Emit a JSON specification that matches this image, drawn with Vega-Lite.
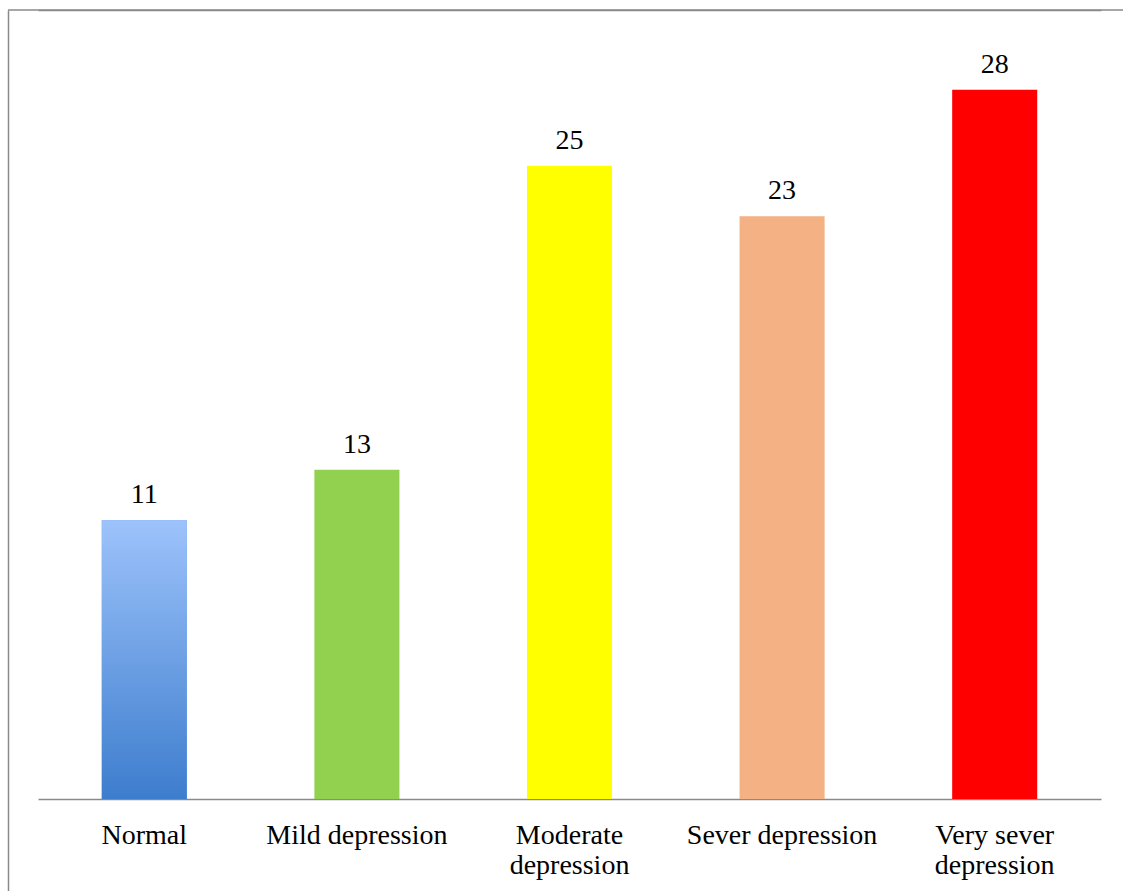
{
  "$schema": "https://vega.github.io/schema/vega-lite/v6.json",
  "autosize": {"type": "none"},
  "padding": {"left": 8, "top": 10, "right": 0, "bottom": 0},
  "width": 1115,
  "height": 881,
  "background": "white",
  "config": {
    "view": {"stroke": "#8a8a8a", "strokeWidth": 1.5, "strokeDash": [1115, 99999]},
    "font": "Liberation Serif"
  },
  "data": {
    "values": [
      {"category": "Normal", "value": 11},
      {"category": "Mild depression", "value": 13},
      {"category": "Moderate depression", "value": 25},
      {"category": "Sever depression", "value": 23},
      {"category": "Very sever depression", "value": 28}
    ]
  },
  "encoding": {
    "x": {
      "field": "category",
      "type": "nominal",
      "sort": null,
      "title": null,
      "scale": {"type": "band", "range": [30, 1093], "paddingInner": 0.6, "paddingOuter": 0.3},
      "axis": {
        "orient": "bottom",
        "offset": -92,
        "domainColor": "#8a8a8a",
        "domainWidth": 1.5,
        "ticks": false,
        "labelAngle": 0,
        "labelFont": "Liberation Serif",
        "labelFontSize": 28,
        "labelColor": "#000000",
        "labelBaseline": "alphabetic",
        "labelPadding": 44,
        "labelLineHeight": 30,
        "labelLimit": 0,
        "labelExpr": "datum.label == 'Moderate depression' ? ['Moderate', 'depression'] : datum.label == 'Very sever depression' ? ['Very sever', 'depression'] : datum.label"
      }
    },
    "y": {
      "field": "value",
      "type": "quantitative",
      "title": null,
      "scale": {"domain": [-3.63158, 31.14474], "nice": false, "zero": false},
      "axis": {
        "orient": "left",
        "values": [31.14474],
        "labels": false,
        "ticks": false,
        "domain": true,
        "domainColor": "#8a8a8a",
        "domainWidth": 1.5,
        "grid": true,
        "gridColor": "#8a8a8a",
        "gridWidth": 1.5,
        "gridOpacity": 1
      }
    }
  },
  "layer": [
    {
      "mark": {"type": "bar"},
      "encoding": {
        "color": {
          "field": "category",
          "type": "nominal",
          "legend": null,
          "scale": {
            "domain": ["Normal", "Mild depression", "Moderate depression", "Sever depression", "Very sever depression"],
            "range": ["#6fa0e4", "#92d050", "#ffff00", "#f4b183", "#ff0000"]
          }
        }
      }
    },
    {
      "transform": [{"filter": "datum.category == 'Normal'"}],
      "mark": {
        "type": "bar",
        "color": {
          "gradient": "linear",
          "x1": 0, "y1": 0, "x2": 0, "y2": 1,
          "stops": [
            {"offset": 0, "color": "#9dc3fb"},
            {"offset": 1, "color": "#3d7dcd"}
          ]
        }
      }
    },
    {
      "mark": {"type": "text", "baseline": "alphabetic", "align": "center", "dy": -17, "fontSize": 28, "font": "Liberation Serif", "color": "#000000"},
      "encoding": {"text": {"field": "value", "type": "quantitative"}}
    }
  ]
}
